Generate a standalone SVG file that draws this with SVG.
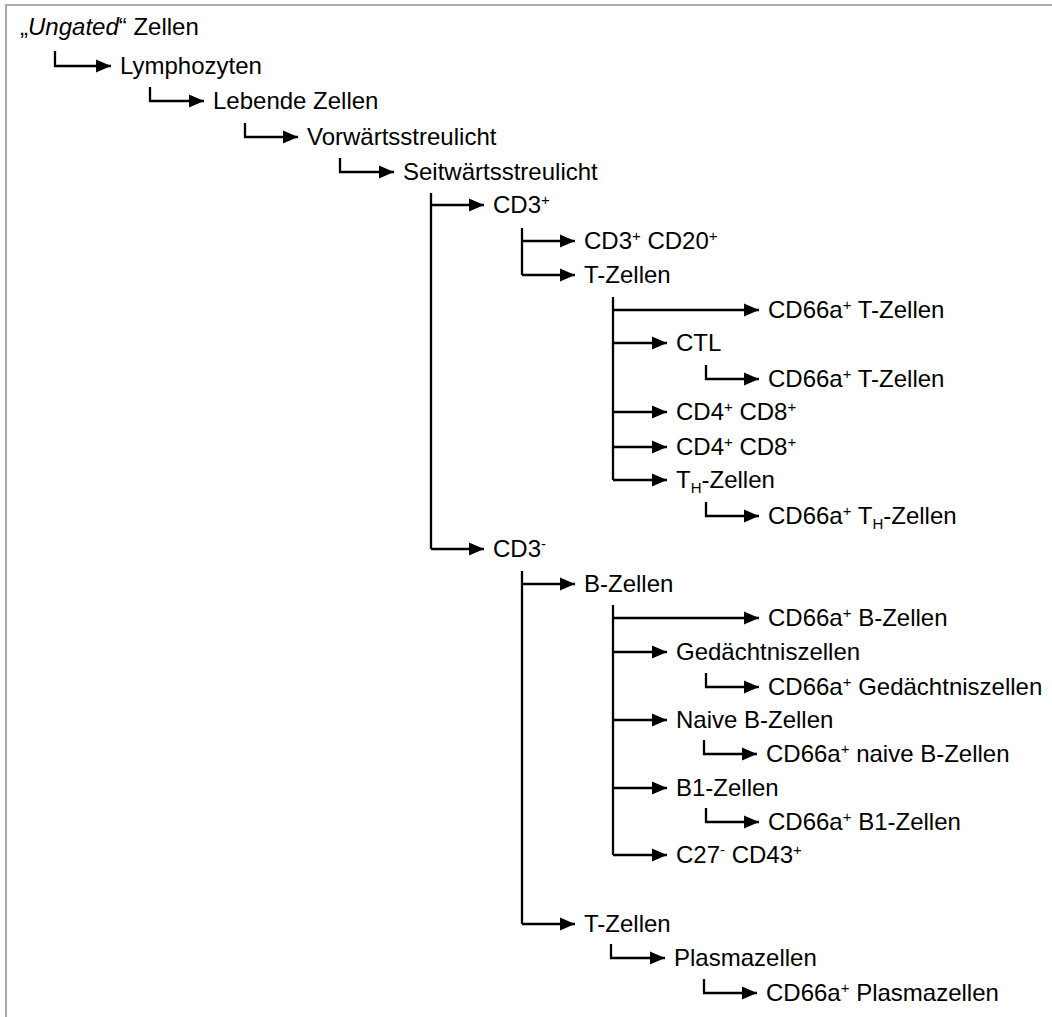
<svg xmlns="http://www.w3.org/2000/svg" width="1052" height="1017" viewBox="0 0 1052 1017">
<style>
text{font-family:"Liberation Sans",Arial,sans-serif;font-size:24px;fill:#000}
.sup{font-size:15px}
.c{fill:none;stroke:#000;stroke-width:2.3;marker-end:url(#ah)}
.t{fill:none;stroke:#000;stroke-width:2.3}
</style>
<defs>
<marker id="ah" markerUnits="userSpaceOnUse" markerWidth="16" markerHeight="14" refX="15" refY="7" orient="auto">
<path d="M0,0.5 L15,7 L0,13.5 z" fill="#000"/>
</marker>
</defs>
<rect width="1052" height="1017" fill="#fff"/>
<path d="M6,1017 V5 H1052" fill="none" stroke="#aaa" stroke-width="2"/>
<g id="connectors">
<path class="c" d="M55,51 V66 H111"/>
<path class="c" d="M150,87 V101 H204"/>
<path class="c" d="M245,123 V137 H298"/>
<path class="c" d="M340,158 V172 H394"/>
<path class="t" d="M431,193 V549"/>
<path class="c" d="M431,205 H484"/>
<path class="c" d="M431,549 H484"/>
<path class="t" d="M522,228 V275"/>
<path class="c" d="M522,241 H575"/>
<path class="c" d="M522,275 H575"/>
<path class="t" d="M613,297 V480"/>
<path class="c" d="M613,310 H759"/>
<path class="c" d="M613,343 H667"/>
<path class="c" d="M706,365 V379 H759"/>
<path class="c" d="M613,412 H667"/>
<path class="c" d="M613,447 H667"/>
<path class="c" d="M613,480 H667"/>
<path class="c" d="M706,502 V516 H759"/>
<path class="t" d="M522,571 V924"/>
<path class="c" d="M522,584 H575"/>
<path class="c" d="M522,924 H575"/>
<path class="t" d="M613,605 V855"/>
<path class="c" d="M613,618 H759"/>
<path class="c" d="M613,652 H667"/>
<path class="c" d="M706,673 V687 H759"/>
<path class="c" d="M613,720 H667"/>
<path class="c" d="M704,740 V754 H757"/>
<path class="c" d="M613,788 H667"/>
<path class="c" d="M706,808 V822 H759"/>
<path class="c" d="M613,855 H667"/>
<path class="c" d="M611,944 V958 H665"/>
<path class="c" d="M704,979 V993 H757"/>
</g>
<g id="n-ungated"><text x="20" y="35">„<tspan font-style="italic">Ungated</tspan>“ Zellen</text></g>
<g id="n-lymph"><text x="120" y="74">Lymphozyten</text></g>
<g id="n-lebend"><text x="213" y="109">Lebende Zellen</text></g>
<g id="n-fsc"><text x="307" y="145">Vorwärtsstreulicht</text></g>
<g id="n-ssc"><text x="403" y="180">Seitwärtsstreulicht</text></g>
<g id="n-cd3p"><text x="493" y="213">CD3<tspan class="sup" dy="-8">+</tspan></text></g>
<g id="n-cd3cd20"><text x="584" y="249">CD3<tspan class="sup" dy="-8">+</tspan><tspan dy="8"> CD20</tspan><tspan class="sup" dy="-8">+</tspan></text></g>
<g id="n-tz1"><text x="584" y="283">T-Zellen</text></g>
<g id="n-cd66t"><text x="768" y="318">CD66a<tspan class="sup" dy="-8">+</tspan><tspan dy="8"> T-Zellen</tspan></text></g>
<g id="n-ctl"><text x="676" y="351">CTL</text></g>
<g id="n-cd66ctl"><text x="768" y="387">CD66a<tspan class="sup" dy="-8">+</tspan><tspan dy="8"> T-Zellen</tspan></text></g>
<g id="n-cd4cd8a"><text x="676" y="420">CD4<tspan class="sup" dy="-8">+</tspan><tspan dy="8"> CD8</tspan><tspan class="sup" dy="-8">+</tspan></text></g>
<g id="n-cd4cd8b"><text x="676" y="455">CD4<tspan class="sup" dy="-8">+</tspan><tspan dy="8"> CD8</tspan><tspan class="sup" dy="-8">+</tspan></text></g>
<g id="n-th"><text x="676" y="488">T<tspan class="sup" dy="5">H</tspan><tspan dy="-5">-Zellen</tspan></text></g>
<g id="n-cd66th"><text x="768" y="524">CD66a<tspan class="sup" dy="-8">+</tspan><tspan dy="8"> T</tspan><tspan class="sup" dy="5">H</tspan><tspan dy="-5">-Zellen</tspan></text></g>
<g id="n-cd3m"><text x="493" y="557">CD3<tspan class="sup" dy="-8">-</tspan></text></g>
<g id="n-bz"><text x="584" y="592">B-Zellen</text></g>
<g id="n-cd66b"><text x="768" y="626">CD66a<tspan class="sup" dy="-8">+</tspan><tspan dy="8"> B-Zellen</tspan></text></g>
<g id="n-ged"><text x="676" y="660">Gedächtniszellen</text></g>
<g id="n-cd66ged"><text x="768" y="695">CD66a<tspan class="sup" dy="-8">+</tspan><tspan dy="8"> Gedächtniszellen</tspan></text></g>
<g id="n-naive"><text x="676" y="728">Naive B-Zellen</text></g>
<g id="n-cd66naive"><text x="766" y="762">CD66a<tspan class="sup" dy="-8">+</tspan><tspan dy="8"> naive B-Zellen</tspan></text></g>
<g id="n-b1"><text x="676" y="796">B1-Zellen</text></g>
<g id="n-cd66b1"><text x="768" y="830">CD66a<tspan class="sup" dy="-8">+</tspan><tspan dy="8"> B1-Zellen</tspan></text></g>
<g id="n-c27"><text x="676" y="863">C27<tspan class="sup" dy="-8">-</tspan><tspan dy="8"> CD43</tspan><tspan class="sup" dy="-8">+</tspan></text></g>
<g id="n-tz2"><text x="584" y="932">T-Zellen</text></g>
<g id="n-plasma"><text x="674" y="966">Plasmazellen</text></g>
<g id="n-cd66plasma"><text x="766" y="1001">CD66a<tspan class="sup" dy="-8">+</tspan><tspan dy="8"> Plasmazellen</tspan></text></g>
</svg>
